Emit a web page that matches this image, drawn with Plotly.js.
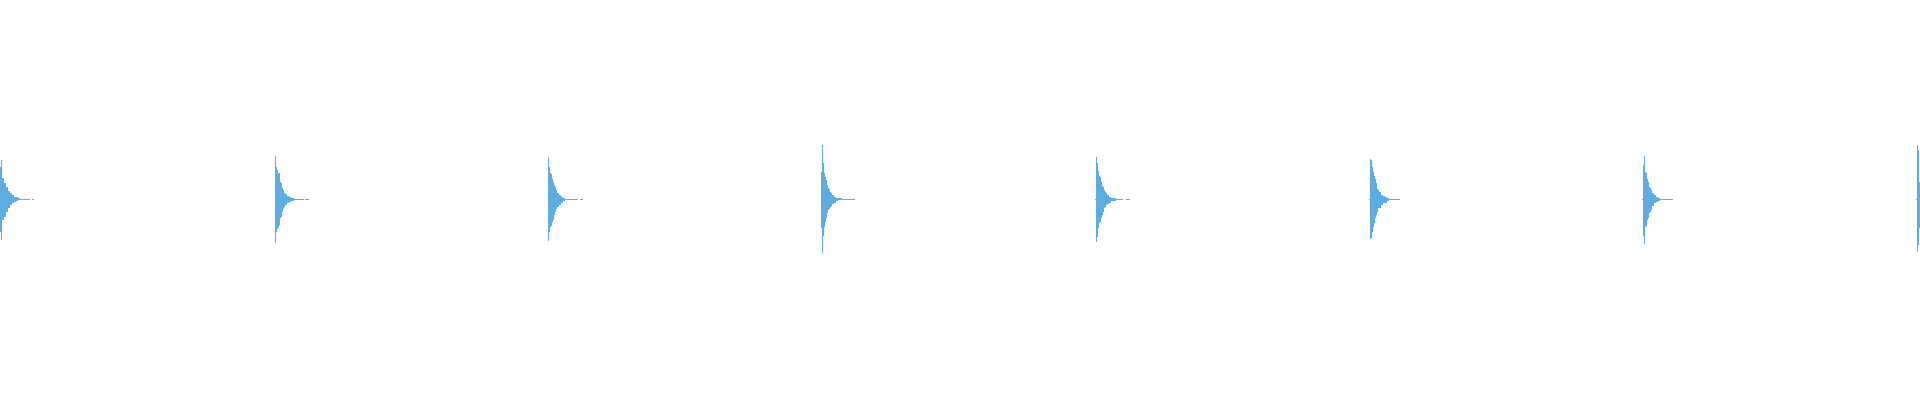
<!DOCTYPE html>
<html>
<head>
<meta charset="utf-8">
<script src="https://cdn.plot.ly/plotly-3.0.1.min.js"></script>
<style>
  html, body { margin: 0; padding: 0; background: #ffffff; }
  #wave { width: 1920px; height: 400px; }
</style>
</head>
<body>
<div id="wave"></div>
<script>
// metronome clicks, 120 bpm -> one click every 500 ms
const onsetsMs = [0, 500, 1000, 1500, 2000, 2500, 3000, 3500];

// peak envelope per display column (percent of full scale),
// first entry is the column just before the click
const top1 = [16, 19.7, 10.5, 10.5, 8, 8, 6.3, 6.3, 4.3, 4.3, 3, 3, 2.2, 2.2, 1.3, 1.3, 1, 1, 0.5, 0.5, 0.25, 0.25, 0.25, 0.25, 0.25, 0.25, 0.25, 0.25, 0.25, 0.25, 0, 0, 0.25, 0.25];
const bot1 = [16.5, 20.3, 10.3, 10.3, 8.7, 8.7, 6.2, 6.2, 4.5, 4.5, 2.8, 2.8, 2, 2, 1.2, 1.2, 0.7, 0.7, 0.35, 0.35, 0.25, 0.25, 0.25, 0.25, 0.25, 0.25, 0.25, 0.25, 0.25, 0.25, 0, 0, 0.25, 0.25];

const top2 = [0, 21.7, 16, 14.7, 13.3, 13, 8.8, 8, 5.5, 4.7, 3.3, 2.5, 2.5, 1.7, 1.7, 1, 1, 0.5, 0.5, 0.5, 0.25, 0.25, 0.25, 0.25, 0.25, 0.25, 0.25, 0.25, 0.25, 0.25, 0, 0.25, 0.25, 0.25, 0.25];
const bot2 = [0, 21.7, 16.2, 15, 14, 12.8, 9.5, 8.7, 6.2, 5, 4, 2.8, 2.8, 2, 2, 1.35, 1.35, 0.65, 0.65, 0.65, 0.25, 0.25, 0.25, 0.25, 0.25, 0.25, 0.25, 0.25, 0.25, 0.25, 0, 0.25, 0.25, 0.25, 0.25];

const top3 = [0, 21.3, 16.3, 13.3, 12.7, 10, 8.8, 7.2, 6, 4.7, 3.3, 3.3, 2.2, 2.2, 1.3, 1.3, 0.5, 0.5, 0.35, 0.35, 0.35, 0.25, 0.25, 0.25, 0.25, 0.25, 0.25, 0.25, 0.25, 0.25, 0.25, 0, 0, 0.25, 0.25, 0.25];
const bot3 = [0, 20.7, 16.2, 14, 13.3, 11.2, 10.3, 7.8, 6.2, 5, 4, 4, 2.8, 2.8, 1.7, 1.7, 0.65, 0.65, 0.35, 0.35, 0.35, 0.25, 0.25, 0.25, 0.25, 0.25, 0.25, 0.25, 0.25, 0.25, 0.25, 0, 0, 0.25, 0.25, 0.25];

const top4 = [13.8, 27.2, 18, 13.3, 11.3, 9.7, 7.2, 5.5, 5, 3.8, 3, 2.2, 2.2, 1.3, 1.3, 0.8, 0.8, 0.5, 0.5, 0.5, 0.5, 0.25, 0.25, 0.25, 0.25, 0.25, 0.25, 0.25, 0.25, 0.25, 0.25, 0.25, 0.25, 0.25];
const bot4 = [14.5, 27, 18.3, 13.7, 11.2, 9.5, 7, 5.3, 5, 4, 3.3, 2.3, 2.3, 1.7, 1.7, 1, 1, 0.5, 0.5, 0.5, 0.5, 0.25, 0.25, 0.25, 0.25, 0.25, 0.25, 0.25, 0.25, 0.25, 0.25, 0.25, 0.25, 0.25];

const top5 = [0.25, 21, 18, 14.3, 11.7, 11, 8.8, 6.7, 6, 4.7, 3.8, 3, 2.2, 2.2, 1.3, 1.3, 0.8, 0.8, 0.5, 0.5, 0.5, 0.25, 0.25, 0.25, 0.25, 0.25, 0.25, 0.25, 0, 0, 0, 0.25, 0.25, 0.25, 0.25];
const bot5 = [0.25, 21.2, 18.7, 14.5, 12, 11.2, 9.5, 7.8, 6.2, 4.5, 3.7, 3, 2.3, 2.3, 1.7, 1.7, 1, 1, 0.65, 0.65, 0.65, 0.25, 0.25, 0.25, 0.25, 0.25, 0.25, 0.25, 0, 0, 0, 0.25, 0.25, 0.25, 0.25];

const top6 = [0.25, 20.2, 19.7, 16.3, 13.8, 11.7, 10, 8, 5, 4.7, 3.8, 3.8, 2.2, 2.2, 1.7, 1.7, 1.3, 1.3, 0.5, 0.5, 0.25, 0.25, 0.25, 0.25, 0.25, 0.25, 0.25, 0.25, 0.25, 0.25, 0.25];
const bot6 = [0.25, 20, 19.5, 16.2, 14, 12, 9.5, 7.8, 6.2, 4.5, 4.5, 4.5, 2.8, 2.8, 2, 2, 1.7, 1.7, 1, 1, 0.25, 0.25, 0.25, 0.25, 0.25, 0.25, 0.25, 0.25, 0.25, 0.25, 0.25];

const top7 = [0.25, 17.2, 21.8, 13.8, 13.3, 10, 8.8, 6.3, 5.5, 4.7, 3, 3, 2.2, 2.2, 1.3, 1.3, 0.7, 0.7, 0.35, 0.35, 0.25, 0.25, 0.25, 0.25, 0.25, 0.25, 0.25, 0.25, 0.25, 0.25, 0.25];
const bot7 = [0.25, 18.5, 22.3, 13.7, 13.3, 10.3, 9.2, 6.7, 6.2, 5.3, 3.3, 3.3, 2, 2, 1.3, 1.3, 0.85, 0.85, 0.5, 0.5, 0.25, 0.25, 0.25, 0.25, 0.25, 0.25, 0.25, 0.25, 0.25, 0.25, 0.25];

const top8 = [0.25, 27.2, 24.7, 8.8];
const bot8 = [0.25, 26.5, 23, 14.5];

const topEnv = [top1, top2, top3, top4, top5, top6, top7, top8];
const botEnv = [bot1, bot2, bot3, bot4, bot5, bot6, bot7, bot8];

// one display column of the waveform, in ms
const colMs = 500 / 273.71;
const waveColor = '#5dade2';

const xs = [];
const heights = [];
const bases = [];
for (let k = 0; k < onsetsMs.length; k++) {
  const tops = topEnv[k];
  const bots = botEnv[k];
  for (let j = 0; j < tops.length; j++) {
    if (tops[j] === 0 && bots[j] === 0) continue;
    // column j-1 relative to the click, bar centred in its column
    xs.push(onsetsMs[k] + (j - 0.5) * colMs);
    bases.push(-bots[j]);
    heights.push(tops[j] + bots[j]);
  }
}

const traces = [{
  type: 'bar',
  x: xs,
  y: heights,
  base: bases,
  width: colMs,
  marker: { color: waveColor, line: { width: 0 } },
  hoverinfo: 'skip',
  showlegend: false
}];

const layout = {
  width: 1920,
  height: 400,
  margin: { l: 0, r: 0, t: 0, b: 0, pad: 0 },
  paper_bgcolor: '#ffffff',
  plot_bgcolor: '#ffffff',
  bargap: 0,
  showlegend: false,
  xaxis: { visible: false, range: [-colMs, 1919 * colMs], fixedrange: true },
  yaxis: { visible: false, range: [-100.35, 99.65], fixedrange: true }
};

Plotly.newPlot('wave', traces, layout, { displayModeBar: false, staticPlot: true });
</script>
</body>
</html>
